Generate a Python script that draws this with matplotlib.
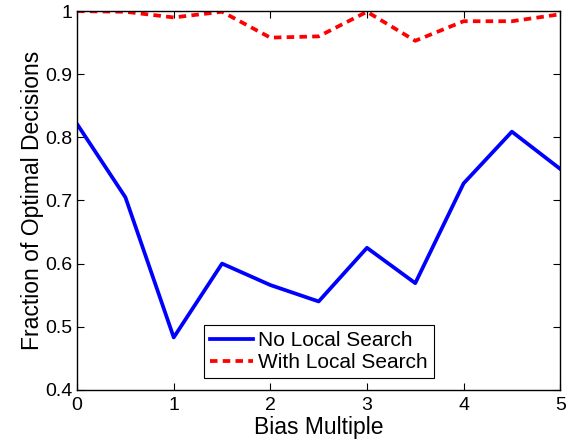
import matplotlib
matplotlib.use("Agg")
import matplotlib.pyplot as plt

plt.rcParams["font.family"] = ["Liberation Sans", "DejaVu Sans"]

bias = [0, 0.5, 1, 1.5, 2, 2.5, 3, 3.5, 4, 4.5, 5]
no_local = [0.821, 0.705, 0.483, 0.600, 0.566, 0.540, 0.625, 0.569, 0.727, 0.809, 0.750]
with_local = [1.0, 0.999, 0.990, 0.999, 0.958, 0.960, 0.999, 0.953, 0.984, 0.984, 0.995]

fig = plt.figure(figsize=(5.67, 4.45), dpi=100)
ax = fig.add_axes([0.136, 0.124, 0.852, 0.851])
ax.plot(bias, no_local, color="#0000ff", lw=2.7, label="No Local Search")
ax.plot(bias, with_local, color="#ff0000", lw=2.7, ls=(0, (2.0, 1.4)), label="With Local Search")

ax.set_xlim(0, 5)
ax.set_ylim(0.4, 1.0)
ax.set_xticks([0, 1, 2, 3, 4, 5])
ax.set_xticklabels(["0", "1", "2", "3", "4", "5"])
ax.set_yticks([0.4, 0.5, 0.6, 0.7, 0.8, 0.9, 1.0])
ax.set_yticklabels(["0.4", "0.5", "0.6", "0.7", "0.8", "0.9", "1"])
ax.tick_params(direction="in", top=True, right=True, labelsize=14, length=5, width=0.8)
ax.tick_params(axis="x", pad=5)
ax.tick_params(axis="y", pad=3.5)
for s in ax.spines.values():
    s.set_linewidth(1.0)

ax.set_xlabel("Bias Multiple", fontsize=16.5, labelpad=1.5)
ax.set_ylabel("Fraction of Optimal Decisions", fontsize=16.5, labelpad=1)

leg = ax.legend(loc="lower center", bbox_to_anchor=(0.5, 0.03), fontsize=15,
                fancybox=False, edgecolor="black", framealpha=1,
                handlelength=2.05, handletextpad=0.25, borderpad=0.3, labelspacing=0.15,
                borderaxespad=0)
leg.get_frame().set_linewidth(0.8)

fig.savefig("out.png", dpi=100)
